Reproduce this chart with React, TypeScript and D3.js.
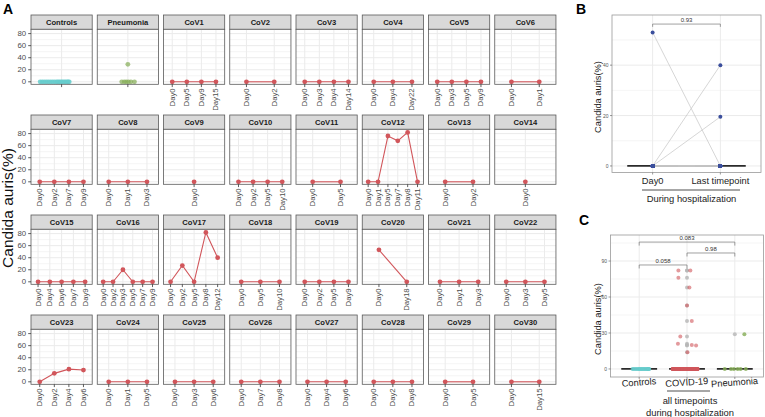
import React from 'react';
import * as d3 from 'd3';

// ---- data ----
const covPatients = [
  'CoV1', 'CoV2', 'CoV3', 'CoV4', 'CoV5', 'CoV6', 'CoV7', 'CoV8', 'CoV9', 'CoV10',
  'CoV11', 'CoV12', 'CoV13', 'CoV14', 'CoV15', 'CoV16', 'CoV17', 'CoV18', 'CoV19', 'CoV20',
  'CoV21', 'CoV22', 'CoV23', 'CoV24', 'CoV25', 'CoV26', 'CoV27', 'CoV28', 'CoV29', 'CoV30',
];

const covDays: string[][] = [
  ['Day0', 'Day5', 'Day9', 'Day15'],
  ['Day0', 'Day2'],
  ['Day0', 'Day3', 'Day4', 'Day14'],
  ['Day0', 'Day4', 'Day22'],
  ['Day0', 'Day3', 'Day5', 'Day9'],
  ['Day0', 'Day1'],
  ['Day0', 'Day2', 'Day7', 'Day9'],
  ['Day0', 'Day1', 'Day3'],
  ['Day0'],
  ['Day0', 'Day2', 'Day5', 'Day10'],
  ['Day0', 'Day5'],
  ['Day0', 'Day1', 'Day5', 'Day7', 'Day8', 'Day11'],
  ['Day0', 'Day2'],
  ['Day0'],
  ['Day0', 'Day4', 'Day6', 'Day7', 'Day9'],
  ['Day0', 'Day2', 'Day3', 'Day5', 'Day7', 'Day9'],
  ['Day0', 'Day2', 'Day5', 'Day8', 'Day12'],
  ['Day0', 'Day5', 'Day10'],
  ['Day0', 'Day2', 'Day5', 'Day9'],
  ['Day0', 'Day18'],
  ['Day0', 'Day1', 'Day3'],
  ['Day0', 'Day3', 'Day5'],
  ['Day0', 'Day2', 'Day4', 'Day6'],
  ['Day0', 'Day1', 'Day5'],
  ['Day0', 'Day3', 'Day6'],
  ['Day0', 'Day7', 'Day8'],
  ['Day0', 'Day4', 'Day6'],
  ['Day0', 'Day2', 'Day8'],
  ['Day0', 'Day5'],
  ['Day0', 'Day15'],
];

const covValues: number[][] = [
  [0, 0, 0, 0],
  [0, 0],
  [0, 0, 0, 0],
  [0, 0, 0],
  [0, 0, 0, 0],
  [0, 0],
  [0, 0, 0, 0],
  [0, 0, 0],
  [0],
  [0, 0, 0, 0],
  [0, 0],
  [0, 0, 76, 68, 82, 0],
  [0, 0],
  [0],
  [0, 0, 0, 0, 0],
  [0, 0, 20, 0, 0, 0],
  [0, 27, 0, 82, 40],
  [0, 0, 0],
  [0, 0, 0, 0],
  [53, 0],
  [0, 0, 0],
  [0, 0, 0],
  [0, 14, 21, 19.5],
  [0, 0, 0],
  [0, 0, 0],
  [0, 0, 0],
  [0, 0, 0],
  [0, 0, 0],
  [0, 0],
  [0, 0],
];

const controlValues = [0, 0, 0, 0, 0, 0, 0, 0, 0, 0, 0, 0, 0, 0, 0, 0, 0, 0];
const controlJitterA = [-0.42, -0.38, -0.34, -0.3, -0.26, -0.22, -0.18, -0.14, -0.1, -0.07, -0.04, -0.01, 0.02, 0.05, 0.08, 0.11, 0.13, 0.15];
const controlJitterC = [-0.14, -0.11, -0.08, -0.05, -0.02, 0.0, 0.02, 0.04, 0.06, 0.08, 0.1, 0.12, 0.14, 0.16, 0.18, 0.19, 0.2, 0.21];

const pneumoniaValues = [0, 0, 0, 0, 0, 0, 29];
const pneumoniaJitterA = [-0.12, -0.07, -0.03, 0.01, 0.06, 0.13, 0.0];
const pneumoniaJitterC = [-0.21, -0.08, -0.02, 0.06, 0.12, 0.23, 0.2];

// jitter of the non-zero COVID-19 points in panel C, in data order
const covidJitterC = [-0.18, 0.05, -0.18, 0.1, -0.14, 0.07, 0.1, 0.0, 0.01, -0.19, 0.19];
// jitter slots used by the COVID-19 zero values in panel C
const covidZeroJitterC = [
  -0.3, -0.27, -0.24, -0.21, -0.18, -0.15, -0.12, -0.09, -0.06, -0.03,
  0.0, 0.03, 0.06, 0.09, 0.12, 0.15, 0.18, 0.21, 0.22, -0.28,
];

const yTicksA = [0, 20, 40, 60, 80];
const yMinorA = [10, 30, 50, 70];
const yTicksB = [0, 20, 40];
const yMinorB = [10, 30, 50];
const yTicksC = [0, 30, 60, 90];
const yMinorC = [15, 45, 75, 105];
const groupsB = ['Day0', 'Last timepoint'];
const groupsC = ['Controls', 'COVID-19', 'Pneumonia'];
const pB = ['0.93'];
const pC = ['0.058', '0.98', '0.083'];

// ---- colours ----
const RED = '#D1565B';
const TEAL = '#66CCCC';
const GREEN = '#84AC55';
const BLUE = '#3B4F9C';
const GRID = '#EBEBEB';
const BORDER = '#5a5a5a';
const FONT = '"Liberation Sans", Arial, Helvetica, sans-serif';

// ---- layout of panel A facets ----
const PX0 = 31, PW = 61.2, PSTEP = 66.25;
const ST0 = 15, SH = 14.3, PH = 55, RSTEP = 100;

type Facet = { name: string; kind: 'ctrl' | 'pneu' | 'cov'; days: string[]; values: number[] };

const facets: Facet[] = [
  { name: 'Controls', kind: 'ctrl', days: ['Controls'], values: controlValues },
  { name: 'Pneumonia', kind: 'pneu', days: ['Pneumonia'], values: pneumoniaValues },
  ...covPatients.map((p, i) => ({ name: p, kind: 'cov' as const, days: covDays[i], values: covValues[i] })),
];

const FacetPanel: React.FC<{ f: Facet; idx: number }> = ({ f, idx }) => {
  const col = idx % 8;
  const row = Math.floor(idx / 8);
  const x0 = PX0 + col * PSTEP;
  const stripTop = ST0 + row * RSTEP;
  const top = stripTop + SH;
  const bottom = top + PH;
  const x = d3.scalePoint<string>().domain(f.days).range([x0, x0 + PW]).padding(0.6);
  const y = d3.scaleLinear().domain([-4.15, 87.15]).range([bottom, top]);
  const unit = PW / 1.2;

  let marks: React.ReactNode = null;
  if (f.kind === 'cov') {
    const pts = f.days.map((d, i) => [x(d)!, y(f.values[i])] as [number, number]);
    const line = d3.line();
    marks = (
      <g>
        {pts.length > 1 && <path d={line(pts)!} fill="none" stroke={RED} strokeWidth={1.1} />}
        {pts.map((p, i) => <circle key={i} cx={p[0]} cy={p[1]} r={2.4} fill={RED} />)}
      </g>
    );
  } else {
    const jit = f.kind === 'ctrl' ? controlJitterA : pneumoniaJitterA;
    const col2 = f.kind === 'ctrl' ? TEAL : GREEN;
    marks = (
      <g>
        {f.values.map((v, i) => (
          <circle key={i} cx={x(f.days[0])! + jit[i] * unit} cy={y(v)} r={2.4} fill={col2} fillOpacity={f.kind === 'ctrl' ? 0.85 : 0.7} />
        ))}
      </g>
    );
  }

  return (
    <g>
      <rect x={x0} y={stripTop} width={PW} height={SH} fill="#D9D9D9" stroke={BORDER} strokeWidth={0.8} />
      <text x={x0 + PW / 2} y={stripTop + SH / 2 + 2.7} textAnchor="middle" fontSize={7.6} fontWeight="bold" fill="#1a1a1a">{f.name}</text>
      <rect x={x0} y={top} width={PW} height={PH} fill="#fff" />
      {yMinorA.map(t => <line key={'m' + t} x1={x0} x2={x0 + PW} y1={y(t)} y2={y(t)} stroke={GRID} strokeWidth={0.5} />)}
      {yTicksA.map(t => <line key={'j' + t} x1={x0} x2={x0 + PW} y1={y(t)} y2={y(t)} stroke={GRID} strokeWidth={1} />)}
      {f.days.map(d => <line key={'v' + d} x1={x(d)} x2={x(d)} y1={top} y2={bottom} stroke={GRID} strokeWidth={1} />)}
      {marks}
      <rect x={x0} y={top} width={PW} height={PH} fill="none" stroke={BORDER} strokeWidth={0.8} />
      {f.days.map(d => (
        <g key={'t' + d}>
          <line x1={x(d)} x2={x(d)} y1={bottom} y2={bottom + 2.8} stroke="#333" strokeWidth={0.8} />
          {f.kind === 'cov' && (
            <text transform={`translate(${x(d)},${bottom + 4}) rotate(-90)`} textAnchor="end" dominantBaseline="central" fontSize={7.8} fill="#4D4D4D">{d}</text>
          )}
        </g>
      ))}
      {col === 0 && yTicksA.map(t => (
        <g key={'y' + t}>
          <line x1={x0 - 2.8} x2={x0} y1={y(t)} y2={y(t)} stroke="#333" strokeWidth={0.8} />
          <text x={x0 - 4.8} y={y(t)} textAnchor="end" dominantBaseline="central" fontSize={7.8} fill="#4D4D4D">{t}</text>
        </g>
      ))}
    </g>
  );
};

const PanelB: React.FC = () => {
  const L = 612, R = 761, T = 15, B = 172.5;
  const x = d3.scalePoint<string>().domain(groupsB).range([L, R]).padding(0.6);
  const y = d3.scaleLinear().domain([-2.6, 59.9]).range([B, T]);
  const half = x.step() * 0.375;
  const pairs = covValues.map(v => [v[0], v[v.length - 1]]);
  const bx0 = x('Day0')!, bx1 = x('Last timepoint')!;
  return (
    <g>
      <text x={576} y={14} fontSize={14} fontWeight="bold">B</text>
      <rect x={L} y={T} width={R - L} height={B - T} fill="#fff" />
      {yMinorB.map(t => <line key={'m' + t} x1={L} x2={R} y1={y(t)} y2={y(t)} stroke={GRID} strokeWidth={0.5} />)}
      {yTicksB.map(t => <line key={'j' + t} x1={L} x2={R} y1={y(t)} y2={y(t)} stroke={GRID} strokeWidth={1} />)}
      {groupsB.map(g => <line key={g} x1={x(g)} x2={x(g)} y1={T} y2={B} stroke={GRID} strokeWidth={1} />)}
      {groupsB.map(g => <line key={'b' + g} x1={x(g)! - half} x2={x(g)! + half} y1={y(0)} y2={y(0)} stroke="#2b2b2b" strokeWidth={1.8} />)}
      {pairs.map((p, i) => (
        <line key={'l' + i} x1={bx0} x2={bx1} y1={y(p[0])} y2={y(p[1])} stroke="#C4C4C4" strokeWidth={0.7} />
      ))}
      {pairs.map((p, i) => (
        <g key={'p' + i}>
          <circle cx={bx0} cy={y(p[0])} r={2} fill={BLUE} />
          <circle cx={bx1} cy={y(p[1])} r={2} fill={BLUE} />
        </g>
      ))}
      <path d={`M${bx0},${y(55.2)}V${y(56.3)}H${bx1}V${y(55.2)}`} fill="none" stroke="#777" strokeWidth={0.7} />
      <text x={(bx0 + bx1) / 2} y={y(56.3) - 2} textAnchor="middle" fontSize={6} fill="#333">{pB[0]}</text>
      <rect x={L} y={T} width={R - L} height={B - T} fill="none" stroke="#9a9a9a" strokeWidth={0.8} />
      {yTicksB.map(t => (
        <g key={'y' + t}>
          <line x1={L - 2} x2={L} y1={y(t)} y2={y(t)} stroke="#555" strokeWidth={0.6} />
          <text x={L - 3.5} y={y(t)} textAnchor="end" dominantBaseline="central" fontSize={5} fill="#555">{t}</text>
        </g>
      ))}
      {groupsB.map(g => (
        <g key={'x' + g}>
          <line x1={x(g)} x2={x(g)} y1={B} y2={B + 2} stroke="#555" strokeWidth={0.6} />
          <text x={x(g)} y={B + 11.5} textAnchor="middle" fontSize={9.3} fill="#222">{g}</text>
        </g>
      ))}
      <line x1={642} x2={740} y1={190} y2={190} stroke="#222" strokeWidth={0.8} />
      <text x={691.5} y={201.5} textAnchor="middle" fontSize={9.4} fill="#222">During hospitalization</text>
      <text transform="translate(601,97) rotate(-90)" textAnchor="middle" fontSize={9.3} fill="#222">Candida auris(%)</text>
    </g>
  );
};

const PanelC: React.FC = () => {
  const L = 610.5, R = 763.5, T = 235, B = 377;
  const x = d3.scalePoint<string>().domain(groupsC).range([L, R]).padding(0.6);
  const y = d3.scaleLinear().domain([-6.7, 111.7]).range([B, T]);
  const unit = x.step();
  const half = unit * 0.375;
  const covidAll = covValues.flat();
  const nonZero = covidAll.filter(v => v > 0);
  const zeros = covidAll.filter(v => v === 0);
  const outliers: [string, number][] = [
    ...nonZero.map(v => ['COVID-19', v] as [string, number]),
    ...pneumoniaValues.filter(v => v > 0).map(v => ['Pneumonia', v] as [string, number]),
  ];
  const xc = x('Controls')!, xv = x('COVID-19')!, xp = x('Pneumonia')!;
  const brackets: [number, number, number, string][] = [
    [xc, xv, 86.7, pC[0]],
    [xv, xp, 96.7, pC[1]],
    [xc, xp, 105.8, pC[2]],
  ];
  return (
    <g>
      <text x={579} y={225} fontSize={14} fontWeight="bold">C</text>
      <rect x={L} y={T} width={R - L} height={B - T} fill="#fff" />
      {yMinorC.map(t => <line key={'m' + t} x1={L} x2={R} y1={y(t)} y2={y(t)} stroke={GRID} strokeWidth={0.5} />)}
      {yTicksC.map(t => <line key={'j' + t} x1={L} x2={R} y1={y(t)} y2={y(t)} stroke={GRID} strokeWidth={1} />)}
      {groupsC.map(g => <line key={g} x1={x(g)} x2={x(g)} y1={T} y2={B} stroke={GRID} strokeWidth={1} />)}
      {groupsC.map(g => <line key={'b' + g} x1={x(g)! - half} x2={x(g)! + half} y1={y(0)} y2={y(0)} stroke="#2b2b2b" strokeWidth={1.8} />)}
      {outliers.map((o, i) => <circle key={'o' + i} cx={x(o[0])} cy={y(o[1])} r={2} fill="#B5B5B5" fillOpacity={0.8} />)}
      {controlValues.map((v, i) => <circle key={'c' + i} cx={xc + controlJitterC[i] * unit} cy={y(v)} r={2} fill={TEAL} fillOpacity={0.8} />)}
      {zeros.map((v, i) => <circle key={'z' + i} cx={xv + covidZeroJitterC[i % covidZeroJitterC.length] * unit} cy={y(v)} r={2} fill={RED} fillOpacity={0.6} />)}
      {nonZero.map((v, i) => <circle key={'n' + i} cx={xv + covidJitterC[i] * unit} cy={y(v)} r={2} fill={RED} fillOpacity={0.6} />)}
      {pneumoniaValues.map((v, i) => <circle key={'p' + i} cx={xp + pneumoniaJitterC[i] * unit} cy={y(v)} r={2} fill={GREEN} fillOpacity={0.8} />)}
      {brackets.map(([a, b, v, lab]) => (
        <g key={lab}>
          <path d={`M${a},${y(v) + 3.5}V${y(v)}H${b}V${y(v) + 3.5}`} fill="none" stroke="#777" strokeWidth={0.7} />
          <text x={(a + b) / 2} y={y(v) - 2} textAnchor="middle" fontSize={6} fill="#333">{lab}</text>
        </g>
      ))}
      <rect x={L} y={T} width={R - L} height={B - T} fill="none" stroke="#9a9a9a" strokeWidth={0.8} />
      {yTicksC.map(t => (
        <g key={'y' + t}>
          <line x1={L - 2} x2={L} y1={y(t)} y2={y(t)} stroke="#555" strokeWidth={0.6} />
          <text x={L - 3.5} y={y(t)} textAnchor="end" dominantBaseline="central" fontSize={5} fill="#555">{t}</text>
        </g>
      ))}
      {groupsC.map(g => (
        <g key={'x' + g}>
          <line x1={x(g)} x2={x(g)} y1={B} y2={B + 2} stroke="#555" strokeWidth={0.6} />
          <text transform={`translate(${x(g)},${B + 8.5}) rotate(-4)`} textAnchor="middle" fontSize={9.3} fill="#222">{g}</text>
        </g>
      ))}
      <line x1={667} x2={710} y1={391} y2={391} stroke="#222" strokeWidth={0.8} />
      <text x={690} y={403.5} textAnchor="middle" fontSize={9.4} fill="#222">all timepoints</text>
      <text x={690} y={415.5} textAnchor="middle" fontSize={9.4} fill="#222">during hospitalization</text>
      <text transform="translate(601,319) rotate(-90)" textAnchor="middle" fontSize={9.3} fill="#222">Candida auris(%)</text>
    </g>
  );
};

const App: React.FC = () => {
  return (
    <svg width={765} height={417} style={{ position: 'absolute', left: 0, top: 0, background: '#fff' }} fontFamily={FONT}>
      <rect width={765} height={417} fill="#fff" />
      <text x={3} y={14} fontSize={14} fontWeight="bold">A</text>
      <text transform="translate(12.5,208) rotate(-90)" textAnchor="middle" fontSize={15.5} fill="#111">Candida auris(%)</text>
      {facets.map((f, i) => <FacetPanel key={f.name} f={f} idx={i} />)}
      <PanelB />
      <PanelC />
    </svg>
  );
};

export default App;
